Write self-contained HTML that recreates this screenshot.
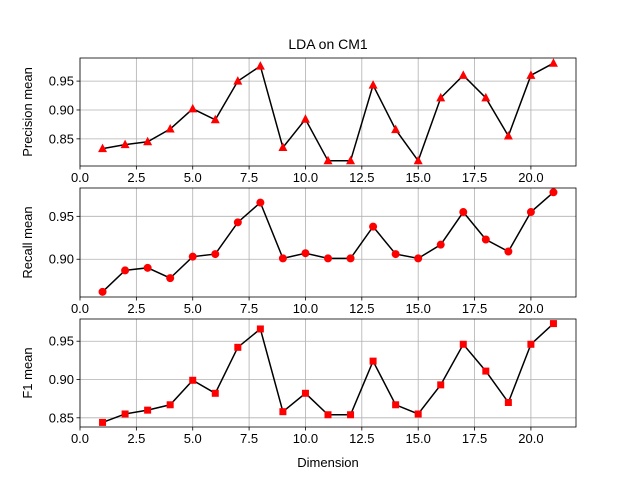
<!DOCTYPE html>
<html><head><meta charset="utf-8"><style>
body{margin:0;background:#fff;}
svg{display:block;font-family:"Liberation Sans","DejaVu Sans",sans-serif;}
</style></head><body>
<svg id="c" width="640" height="480"></svg>
<script>
const dims=[1,2,3,4,5,6,7,8,9,10,11,12,13,14,15,16,17,18,19,20,21];
const precision=[0.833,0.840,0.845,0.867,0.902,0.883,0.950,0.976,0.835,0.884,0.812,0.812,0.943,0.866,0.812,0.921,0.960,0.921,0.855,0.960,0.981];
const recall=[0.862,0.887,0.890,0.878,0.903,0.906,0.943,0.966,0.901,0.907,0.901,0.901,0.938,0.906,0.901,0.917,0.955,0.923,0.909,0.955,0.978];
const f1=[0.844,0.855,0.860,0.867,0.899,0.882,0.942,0.966,0.858,0.882,0.854,0.854,0.924,0.867,0.855,0.893,0.946,0.911,0.870,0.946,0.973];
const xTicks=[0,2.5,5,7.5,10,12.5,15,17.5,20];
const xTickLabels=["0.0","2.5","5.0","7.5","10.0","12.5","15.0","17.5","20.0"];
const yTicks1=[0.85,0.90,0.95], yTicks2=[0.90,0.95], yTicks3=[0.85,0.90,0.95];
const NS="http://www.w3.org/2000/svg";
const svg=document.getElementById('c');
function mk(t,a,p){const e=document.createElementNS(NS,t);for(const k in a)e.setAttribute(k,a[k]);(p||svg).appendChild(e);return e;}
const L=80,R=576,xmin=0,xmax=22;
const sx=v=>L+(v-xmin)/(xmax-xmin)*(R-L);
const panels=[
 {data:precision,top:58,bot:166,ymin:0.803,ymax:0.990,yt:yTicks1,label:"Precision mean",marker:"tri",name:"precision"},
 {data:recall,top:188,bot:297,ymin:0.856,ymax:0.983,yt:yTicks2,label:"Recall mean",marker:"circ",name:"recall"},
 {data:f1,top:319,bot:427,ymin:0.838,ymax:0.979,yt:yTicks3,label:"F1 mean",marker:"sq",name:"f1"}
];
const title=mk('text',{x:328,y:49,'text-anchor':'middle','font-size':14});
title.textContent="LDA on CM1";


panels.forEach(p=>{
 const g=mk('g',{});
 
 
 const sy=v=>p.bot-(v-p.ymin)/(p.ymax-p.ymin)*(p.bot-p.top);
 xTicks.forEach((t,i)=>{
  const x=sx(t);
  mk('line',{x1:x,x2:x,y1:p.top,y2:p.bot,stroke:'#b0b0b0','stroke-width':0.8},g);
  mk('line',{x1:x,x2:x,y1:p.bot,y2:p.bot+3.5,stroke:'#000','stroke-width':0.8},g);
  const tx=mk('text',{x:x,y:p.bot+16,'text-anchor':'middle','font-size':13},g);
  tx.textContent=xTickLabels[i];
  
  
 });
 p.yt.forEach(t=>{
  const y=sy(t);
  mk('line',{x1:L,x2:R,y1:y,y2:y,stroke:'#b0b0b0','stroke-width':0.8},g);
  mk('line',{x1:L-3.5,x2:L,y1:y,y2:y,stroke:'#000','stroke-width':0.8},g);
  const tx=mk('text',{x:L-6,y:y+4.5,'text-anchor':'end','font-size':13},g);
  tx.textContent=t.toFixed(2);
  
  
 });
 const pts=dims.map((d,i)=>sx(d)+','+sy(p.data[i])).join(' ');
 const line=mk('polyline',{points:pts,fill:'none',stroke:'#000','stroke-width':1.5},g);
 
 
 dims.forEach((d,i)=>{
  const x=sx(d),y=sy(p.data[i]);let m;
  if(p.marker==='tri')m=mk('polygon',{points:`${x},${y-5} ${x-4.5},${y+3.5} ${x+4.5},${y+3.5}`,fill:'#f00'},g);
  else if(p.marker==='circ')m=mk('circle',{cx:x,cy:y,r:4,fill:'#f00'},g);
  else m=mk('rect',{x:x-3.5,y:y-3.5,width:7,height:7,fill:'#f00'},g);
  
  
 });
 mk('rect',{x:L,y:p.top,width:R-L,height:p.bot-p.top,fill:'none',stroke:'#000','stroke-width':0.8},g);
 const cy=(p.top+p.bot)/2;
 const yl=mk('text',{x:32,y:cy,'text-anchor':'middle','font-size':13,transform:`rotate(-90 32 ${cy})`},g);
 yl.textContent=p.label;
 
 
});
const xl=mk('text',{x:328,y:467,'text-anchor':'middle','font-size':13});
xl.textContent="Dimension";


</script>
</body></html>
